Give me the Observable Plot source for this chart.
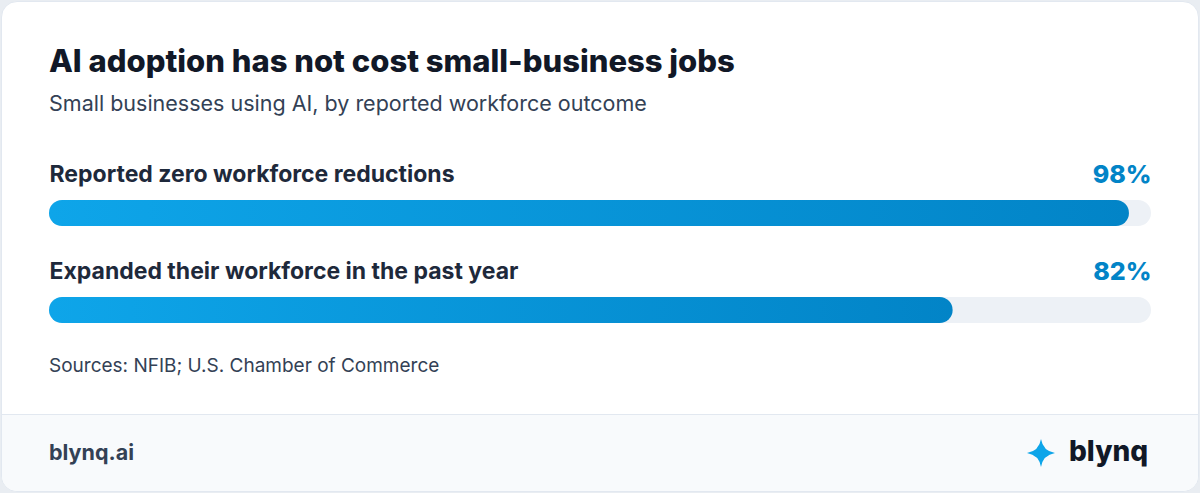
<!DOCTYPE html>
<html>
<head>
<meta charset="utf-8">
<script src="https://cdn.jsdelivr.net/npm/d3@7"></script>
<script src="https://cdn.jsdelivr.net/npm/@observablehq/plot@0.6"></script>
<style>
  html, body { margin: 0; padding: 0; }
  body { width: 1200px; height: 493px; background: #e9edf2; font-family: Inter, "Noto Sans", sans-serif; position: relative; overflow: hidden; }
  #card { position: absolute; left: 1px; top: 1px; width: 1196px; height: 489px; background: #ffffff; border: 1px solid #e2e8f0; border-radius: 16px; overflow: hidden; }
  .t { position: absolute; white-space: nowrap; line-height: 1; }
  #title { left: 47px; top: 43.2px; font-size: 31px; font-weight: 800; color: #111827; }
  #subtitle { left: 47px; top: 91.4px; font-size: 21.5px; font-weight: 400; color: #334155; }
  #chart { position: absolute; left: 47px; top: 147px; }
  #source { left: 47px; top: 353.6px; font-size: 19px; font-weight: 400; color: #334155; }
  #footer { position: absolute; left: 0; top: 412px; width: 1196px; height: 80px; background: #f8fafc; border-top: 1px solid #e2e8f0; }
  #site { left: 47px; top: 27.4px; font-size: 21.5px; font-weight: 700; color: #334155; }
  #brand { left: 1067px; top: 21.8px; font-size: 28px; font-weight: 800; color: #111827; }
  #star { position: absolute; left: 1023px; top: 23px; }
</style>
</head>
<body>
<div id="card">
  <div class="t" id="title">AI adoption has not cost small-business jobs</div>
  <div class="t" id="subtitle">Small businesses using AI, by reported workforce outcome</div>
  <div id="chart"></div>
  <div class="t" id="source">Sources: NFIB; U.S. Chamber of Commerce</div>
  <div id="footer">
    <div class="t" id="site">blynq.ai</div>
    <svg id="star" width="32" height="30" viewBox="-16 -15 32 30">
      <path d="M0,-14 Q2,-2 14,0 Q2,2 0,14 Q-2,2 -14,0 Q-2,-2 0,-14Z" fill="#0ea5e9"/>
    </svg>
    <div class="t" id="brand">blynq</div>
  </div>
</div>
<script>
const categories = ["Reported zero workforce reductions", "Expanded their workforce in the past year"];
const values = [98, 82];
const valueLabels = ["98%", "82%"];
const maxValue = 100;

const rows = categories.map((c, i) => ({category: c, value: values[i], label: valueLabels[i], max: maxValue}));

const chart = Plot.plot({
  width: 1102,
  height: 194,
  margin: 0,
  x: {domain: [0, maxValue], range: [0, 1102], axis: null},
  y: {domain: categories, range: [0, 194], padding: 0, axis: null},
  style: {fontFamily: "Inter, 'Noto Sans', sans-serif", overflow: "visible"},
  marks: [
    Plot.barX(rows, {x1: 0, x2: "max", y: "category", fill: "#edf1f6", insetTop: 51, insetBottom: 20, rx: 13}),
    Plot.barX(rows, {x1: 0, x2: "value", y: "category", fill: "url(#barGrad)", insetTop: 51, insetBottom: 20, rx: 13}),
    Plot.text(rows, {x: 0, y: "category", text: "category", textAnchor: "start", dy: -22.9, fontSize: 23, fontWeight: 700, fill: "#1e293b"}),
    Plot.text(rows, {x: "max", y: "category", text: "label", textAnchor: "end", dy: -23.5, fontSize: 25, fontWeight: 800, fill: "#0284c7"})
  ]
});

const ns = "http://www.w3.org/2000/svg";
const defs = document.createElementNS(ns, "defs");
defs.innerHTML = '<linearGradient id="barGrad" x1="0" y1="0" x2="1" y2="0"><stop offset="0" stop-color="#0ea5e9"/><stop offset="1" stop-color="#0284c7"/></linearGradient>';
chart.insertBefore(defs, chart.firstChild);
document.getElementById("chart").appendChild(chart);
</script>
</body>
</html>
